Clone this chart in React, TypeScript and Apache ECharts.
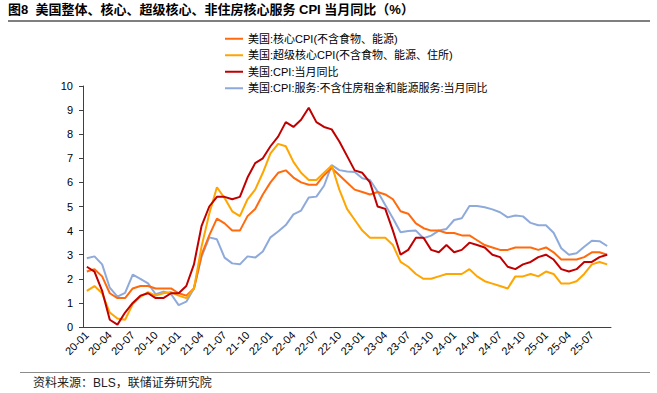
import React, { useEffect, useRef } from "react";
import * as echarts from "echarts";

const years = [20, 21, 22, 23, 24, 25];
const lastMonth = 9;
const categories: string[] = [];
for (const y of years) {
  for (let m = 1; m <= 12; m++) {
    if (y === 25 && m > lastMonth) break;
    categories.push(`${y}-${String(m).padStart(2, "0")}`);
  }
}

const seriesNames = [
  "美国:核心CPI(不含食物、能源)",
  "美国:超级核心CPI(不含食物、能源、住所)",
  "美国:CPI:当月同比",
  "美国:CPI:服务:不含住房租金和能源服务:当月同比",
];

const coreCPI = [
  2.3, 2.4, 2.1, 1.4, 1.2, 1.2, 1.6, 1.7, 1.7, 1.6, 1.6, 1.6,
  1.4, 1.3, 1.6, 3.0, 3.8, 4.5, 4.3, 4.0, 4.0, 4.6, 4.9, 5.5,
  6.0, 6.4, 6.5, 6.2, 6.0, 5.9, 5.9, 6.3, 6.6, 6.3, 6.0, 5.7,
  5.6, 5.5, 5.6, 5.5, 5.3, 4.8, 4.7, 4.3, 4.1, 4.0, 4.0, 3.9,
  3.9, 3.8, 3.8, 3.6, 3.4, 3.3, 3.2, 3.2, 3.3, 3.3, 3.3, 3.2,
  3.3, 3.1, 2.8, 2.8, 2.8, 2.9, 3.1, 3.1, 3.0,
];

const superCore = [
  1.5, 1.7, 1.4, 0.6, 0.35, 0.3, 0.95, 1.25, 1.45, 1.3, 1.4, 1.45,
  1.3, 1.2, 1.6, 3.35, 4.7, 5.8, 5.35, 4.8, 4.6, 5.3, 5.7, 6.4,
  7.2, 7.6, 7.5, 6.85, 6.4, 6.1, 6.1, 6.4, 6.7, 5.7, 4.9, 4.45,
  4.0, 3.7, 3.7, 3.7, 3.4, 2.7, 2.5, 2.2, 2.0, 2.0, 2.1, 2.2,
  2.2, 2.2, 2.4, 2.1, 1.9, 1.8, 1.7, 1.6, 2.1, 2.1, 2.2, 2.1,
  2.3, 2.2, 1.8, 1.8, 1.9, 2.2, 2.6, 2.7, 2.6,
];

const headlineCPI = [
  2.5, 2.3, 1.5, 0.3, 0.1, 0.6, 1.0, 1.3, 1.4, 1.2, 1.2, 1.4,
  1.4, 1.7, 2.6, 4.2, 5.0, 5.4, 5.4, 5.3, 5.4, 6.2, 6.8, 7.0,
  7.5, 7.9, 8.5, 8.3, 8.6, 9.1, 8.5, 8.3, 8.2, 7.7, 7.1, 6.5,
  6.4, 6.0, 5.0, 4.9, 4.0, 3.0, 3.2, 3.7, 3.7, 3.2, 3.1, 3.4,
  3.1, 3.2, 3.5, 3.4, 3.3, 3.0, 2.9, 2.5, 2.4, 2.6, 2.7, 2.9,
  3.0, 2.8, 2.4, 2.3, 2.4, 2.7, 2.7, 2.9, 3.0,
];

const servicesExShelter = [
  2.85, 2.93, 2.6, 1.63, 1.26, 1.42, 2.17, 2.0, 1.81, 1.36, 1.47, 1.37,
  0.91, 1.05, 1.6, 2.92, 3.72, 3.64, 2.88, 2.64, 2.6, 2.93, 2.88, 3.13,
  3.72, 3.96, 4.23, 4.67, 4.83, 5.37, 5.41, 5.86, 6.72, 6.51, 6.45, 6.43,
  6.17, 6.1, 5.62, 5.06, 4.51, 3.93, 3.98, 4.0, 3.68, 3.79, 4.0, 4.07,
  4.44, 4.51, 5.02, 5.02, 4.97, 4.88, 4.76, 4.55, 4.63, 4.59, 4.32, 4.22,
  4.22, 3.91, 3.27, 3.0, 3.06, 3.33, 3.58, 3.56, 3.36,
];

const colors = ["#FF6A0D", "#FFA500", "#C00000", "#8EAADB"];
const seriesData = [coreCPI, superCore, headlineCPI, servicesExShelter];

const titleText = "图8  美国整体、核心、超级核心、非住房核心服务 CPI 当月同比（%）";
const sourceText = "资料来源：BLS，联储证券研究院";

const FONT = "'Liberation Sans', Arial, 'Noto Sans CJK SC', sans-serif";

export default function App() {
  const ref = useRef<HTMLDivElement>(null);
  useEffect(() => {
    document.body.style.margin = "0";
    if (!ref.current) return;
    const chart = echarts.init(ref.current, undefined, { renderer: "svg" });
    chart.setOption({
      animation: false,
      color: colors,
      textStyle: { fontFamily: FONT },
      grid: { left: 83, right: 46, top: 86, bottom: 66 },
      legend: {
        orient: "vertical",
        left: 220,
        top: 27.5,
        icon: "rect",
        itemWidth: 18,
        itemHeight: 2,
        itemGap: 4,
        itemTextGap: 5,
        data: seriesNames,
        textStyle: { fontSize: 11, lineHeight: 12.5, color: "#000", fontFamily: FONT },
      },
      xAxis: {
        type: "category",
        data: categories,
        boundaryGap: true,
        axisLine: { lineStyle: { color: "#404040", width: 1 } },
        axisTick: { interval: 2, length: 4, lineStyle: { color: "#404040" } },
        axisLabel: {
          interval: 2,
          rotate: 45,
          fontSize: 11,
          margin: 6,
          color: "#000",
          fontFamily: FONT,
        },
        splitLine: { show: false },
      },
      yAxis: {
        type: "value",
        min: 0,
        max: 10,
        interval: 1,
        axisLine: { show: true, lineStyle: { color: "#404040", width: 1 } },
        axisTick: { show: true, length: 4, lineStyle: { color: "#404040" } },
        axisLabel: { fontSize: 11, margin: 10, color: "#000", fontFamily: FONT },
        splitLine: { show: false },
      },
      series: seriesNames.map((name, i) => ({
        name,
        type: "line",
        data: seriesData[i],
        symbol: "none",
        lineStyle: { width: 2, color: colors[i] },
        itemStyle: { color: colors[i] },
        z: i === 3 ? 1 : 2 + i,
      })),
      graphic: [
        {
          type: "text",
          left: 8,
          top: 3,
          style: {
            text: titleText,
            font: `bold 13px ${FONT}`,
            fill: "#000",
          },
        },
        {
          type: "rect",
          shape: { x: 8, y: 20, width: 642, height: 2 },
          style: { fill: "#7f7f7f" },
        },
        {
          type: "rect",
          shape: { x: 20, y: 372, width: 630, height: 1 },
          style: { fill: "#8c8c8c" },
        },
        {
          type: "text",
          left: 33,
          top: 377,
          style: {
            text: sourceText,
            font: `12px ${FONT}`,
            fill: "#222",
          },
        },
      ],
    });
    return () => chart.dispose();
  }, []);
  return <div ref={ref} style={{ width: 657, height: 393 }} />;
}
